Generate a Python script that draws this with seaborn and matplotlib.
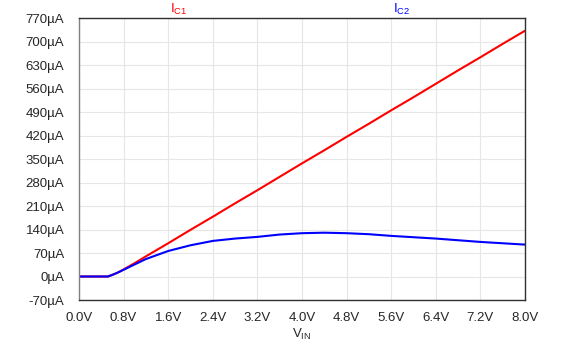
import seaborn as sns
import matplotlib.pyplot as plt
import pandas as pd

# Sweep of V_IN (V) and collector currents (uA)
vin = [0.0, 0.52, 0.6, 0.7, 0.8, 1.0, 1.2, 1.6, 2.0, 2.4, 2.8, 3.2, 3.6,
       4.0, 4.4, 4.8, 5.2, 5.6, 6.0, 6.4, 6.8, 7.2, 7.6, 8.0]
ic1 = [0, 0, 5, 12, 21, 40, 60, 99, 139, 178, 218, 257, 297,
       337, 376, 416, 455, 495, 534, 574, 614, 653, 693, 732]
ic2 = [0, 0, 5, 12, 20, 36, 52, 76, 93, 106, 113, 118, 125,
       129, 130.5, 129, 126, 121, 117, 113, 108, 103, 99, 95]

xticks = [0.0, 0.8, 1.6, 2.4, 3.2, 4.0, 4.8, 5.6, 6.4, 7.2, 8.0]
yticks = list(range(-70, 771, 70))

df = pd.DataFrame({"vin": vin, "ic1": ic1, "ic2": ic2})

sns.set_style("white")
plt.rcParams['font.family'] = ['Liberation Sans', 'DejaVu Sans']

fig = plt.figure(figsize=(5.67, 3.49), dpi=100)
ax = fig.add_axes([0.1393, 0.1404, 0.7866, 0.808])

sns.lineplot(data=df, x="vin", y="ic1", color="#ff0000", linewidth=1.5, ax=ax)
sns.lineplot(data=df, x="vin", y="ic2", color="#0000ff", linewidth=1.5, ax=ax)

ax.set_xlim(0, 8)
ax.set_ylim(-70, 770)
ax.set_xticks(xticks)
ax.set_xticklabels([f"{v:.1f}V" for v in xticks], fontsize=9.5)
ax.set_yticks(yticks)
ax.set_yticklabels([f"{v}µA" for v in yticks], fontsize=9.5)
ax.grid(True, color="#e6e6e6", linewidth=0.8)
ax.tick_params(direction="out", length=5.5, width=1.2, color="#707070")
ax.tick_params(axis="y", pad=5)
ax.tick_params(axis="x", pad=3)

for side in ["top", "right", "bottom"]:
    ax.spines[side].set_color("#303030")
ax.spines["left"].set_color("#808080")
for s in ax.spines.values():
    s.set_linewidth(1.0)

ax.set_xlabel(r"$\mathregular{V_{IN}}$", fontsize=9.5, labelpad=2)
ax.set_ylabel("")

# trace labels above the plot
trans = ax.get_xaxis_transform()
ax.text(1.63, 1.005, r"$\mathregular{I_{C1}}$", color="#ff0000", fontsize=9.5,
        ha="left", va="bottom", transform=trans)
ax.text(5.63, 1.005, r"$\mathregular{I_{C2}}$", color="#0000ff", fontsize=9.5,
        ha="left", va="bottom", transform=trans)

fig.savefig("out.png", dpi=100)
